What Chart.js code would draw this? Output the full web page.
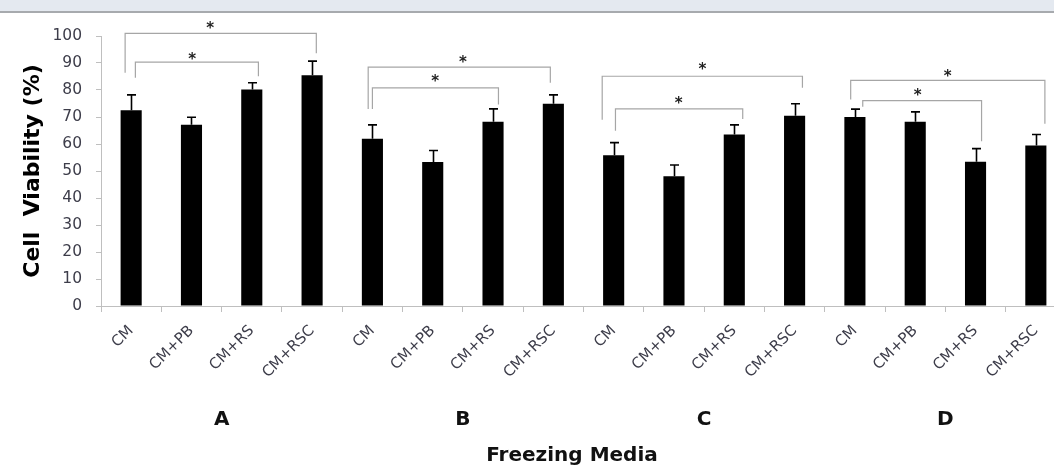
<!DOCTYPE html>
<html>
<head>
<meta charset="utf-8">
<script src="https://cdn.jsdelivr.net/npm/chart.js@4.4.1/dist/chart.umd.min.js"></script>
<style>
  html, body { margin: 0; padding: 0; background: #fff; overflow: hidden; width: 1054px; height: 466px; }
  #band { position: absolute; left: 0; top: 0; width: 1054px; height: 11px; background: #e4e9f0; border-bottom: 2px solid #a7aaae; }
  #wrap { position: absolute; left: 0; top: 0; width: 1070px; height: 466px; }
</style>
</head>
<body>
<div id="wrap"><canvas id="c" width="1070" height="466"></canvas></div>
<div id="band"></div>
<script>
// ---- data ----
const categories = ['CM','CM+PB','CM+RS','CM+RSC','CM','CM+PB','CM+RS','CM+RSC','CM','CM+PB','CM+RS','CM+RSC','CM','CM+PB','CM+RS','CM+RSC'];
const groups = ['A','B','C','D'];
const viability = [72.5,67.1,80.2,85.5, 61.9,53.3,68.2,74.9, 55.8,48.1,63.5,70.5, 70.0,68.2,53.4,59.4];
const errors    = [5.7,2.8,2.5,5.2, 5.2,4.3,4.8,3.3, 4.7,4.1,3.6,4.4, 2.9,3.7,4.9,4.1];
const yTicks = [0,10,20,30,40,50,60,70,80,90,100];
// significance brackets: [fromCategory, toCategory, level, fromLegEnd, toLegEnd, starCategory, starLevel]
const brackets = [
  [-0.10, 3.07, 101.0, 86.4, 93.6, 1.31, 103.6],
  [ 0.07, 2.11,  90.3, 84.5, 85.1, 1.01,  92.3],
  [ 3.93, 6.95,  88.5, 73.0, 82.7, 5.50,  91.1],
  [ 4.00, 6.09,  80.8, 73.0, 74.6, 5.04,  84.2],
  [ 7.81,11.13,  85.1, 69.0, 80.8, 9.47,  88.5],
  [ 8.03,10.14,  73.0, 64.9, 69.3, 9.08,  75.8],
  [11.93,15.15,  83.6, 76.5, 67.5,13.54,  85.8],
  [12.13,14.10,  76.1, 73.8, 61.0,13.04,  78.7]
];
const xTitle = 'Freezing Media';
const yTitle = 'Cell  Viability (%)';

const FONT = '"DejaVu Sans", sans-serif';

const overlay = {
  id: 'overlay',
  afterDatasetsDraw(chart) {
    const {ctx, scales: {x, y}} = chart;
    ctx.save();
    // error bars
    ctx.strokeStyle = '#000';
    ctx.lineWidth = 1.6;
    viability.forEach((v, i) => {
      const px = Math.round(x.getPixelForValue(i)) + 0.5;
      const top = y.getPixelForValue(v);
      const e = y.getPixelForValue(v + errors[i]);
      ctx.beginPath();
      ctx.moveTo(px, top); ctx.lineTo(px, e);
      ctx.moveTo(px - 4.5, e); ctx.lineTo(px + 4.5, e);
      ctx.stroke();
    });
    // brackets
    ctx.strokeStyle = '#a6a6a6';
    ctx.lineWidth = 1.2;
    ctx.fillStyle = '#222';
    ctx.font = 'bold 15px ' + FONT;
    ctx.textAlign = 'center';
    ctx.textBaseline = 'middle';
    brackets.forEach(b => {
      const x1 = x.getPixelForValue(b[0]), x2 = x.getPixelForValue(b[1]);
      const yl = y.getPixelForValue(b[2]);
      ctx.beginPath();
      ctx.moveTo(x1, y.getPixelForValue(b[3]));
      ctx.lineTo(x1, yl);
      ctx.lineTo(x2, yl);
      ctx.lineTo(x2, y.getPixelForValue(b[4]));
      ctx.stroke();
      ctx.fillText('*', x.getPixelForValue(b[5]), y.getPixelForValue(b[6]) + 3);
    });
    // group labels
    ctx.fillStyle = '#111';
    ctx.font = 'bold 20px ' + FONT;
    groups.forEach((g, gi) => {
      const cx = (x.getPixelForValue(gi * 4 + 1) + x.getPixelForValue(gi * 4 + 2)) / 2;
      ctx.fillText(g, cx, 420);
    });
    ctx.font = 'bold 20px ' + FONT;
    ctx.fillText(xTitle, 572, 456);
    ctx.restore();
  }
};

new Chart(document.getElementById('c'), {
  type: 'bar',
  data: {
    labels: categories,
    datasets: [{
      data: viability,
      backgroundColor: '#000',
      borderWidth: 0,
      barPercentage: 0.35,
      categoryPercentage: 1.0
    }]
  },
  options: {
    responsive: false,
    animation: false,
    layout: { padding: { left: 0, right: 4, top: 36, bottom: 0 } },
    plugins: { legend: { display: false }, tooltip: { enabled: false } },
    scales: {
      x: {
        grid: { display: true, drawOnChartArea: false, offset: true, tickLength: 6, color: '#bfbfbf', lineWidth: 1 },
        border: { display: true, color: '#bfbfbf', width: 1 },
        ticks: { minRotation: 45, maxRotation: 45, autoSkip: false, padding: 10, color: '#3d3d4a', font: { family: FONT, size: 15 } },
        afterFit(scale) { scale.height = 160; }
      },
      y: {
        min: 0, max: 100,
        afterBuildTicks(scale) { scale.ticks = yTicks.map(v => ({ value: v })); },
        grid: { display: true, drawOnChartArea: false, tickLength: 5, color: '#bfbfbf', lineWidth: 1 },
        border: { display: true, color: '#bfbfbf', width: 1 },
        ticks: { padding: 14, color: '#3d3d4a', font: { family: FONT, size: 15.5 } },
        title: { display: true, text: yTitle, color: '#000', font: { family: FONT, size: 22, weight: 'bold' }, padding: { top: 20, bottom: 0 } },
        afterFit(scale) { scale.width = 101; }
      }
    }
  },
  plugins: [overlay]
});
</script>
</body>
</html>
